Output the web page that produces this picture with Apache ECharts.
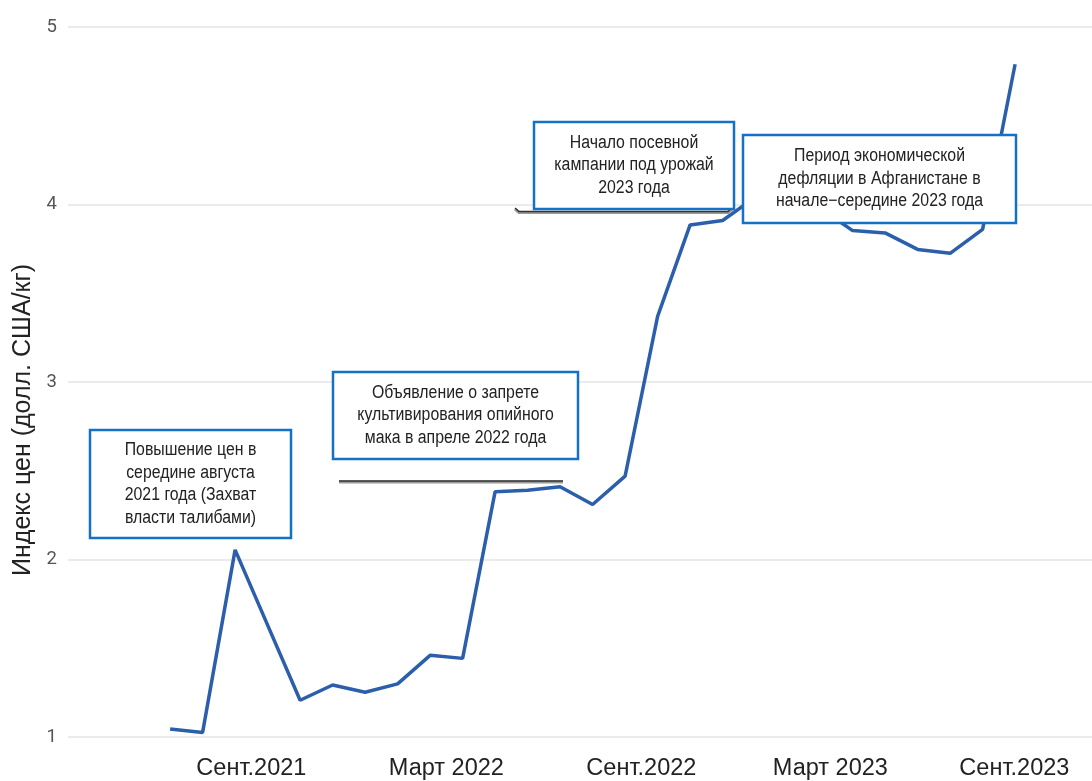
<!DOCTYPE html>
<html><head><meta charset="utf-8">
<script src="https://cdn.jsdelivr.net/npm/echarts@6/dist/echarts.min.js"></script>
<style>html,body{margin:0;padding:0;background:#fff}#c{width:1092px;height:781px}</style>
</head><body><div id="c"></div>
<script>
// Monthly price index (USD/kg)
const months = ['2021-06','2021-07','2021-08','2021-09','2021-10','2021-11','2021-12',
  '2022-01','2022-02','2022-03','2022-04','2022-05','2022-06','2022-07','2022-08','2022-09',
  '2022-10','2022-11','2022-12','2023-01','2023-02','2023-03','2023-04','2023-05','2023-06',
  '2023-07','2023-08'];
const prices = [1.045,1.026,2.054,1.63,1.207,1.293,1.252,
  1.299,1.46,1.443,2.382,2.39,2.41,2.31,2.47,3.37,
  3.885,3.91,4.04,4.03,3.98,3.853,3.84,3.747,3.725,
  3.86,4.79];
const tickMonths = ['2021-09','2022-03','2022-09','2023-03','2023-09'];
const tickLabels = ['Сент.2021','Март 2022','Сент.2022','Март 2023','Сент.2023'];
const yTicks = [1,2,3,4,5];
const yTitle = 'Индекс цен (долл. США/кг)';
const notes = [
  'Повышение цен в\nсередине августа\n2021 года (Захват\nвласти талибами)',
  'Объявление о запрете\nкультивирования опийного\nмака в апреле 2022 года',
  'Начало посевной\nкампании под урожай\n2023 года',
  'Период экономической\nдефляции в Афганистане в\nначале−середине 2023 года'
];

function monthIndex(s){ const [y,m]=s.split('-').map(Number); return (y-2021)*12+(m-1); }
const seriesData = months.map((m,i)=>[monthIndex(m)+0.5, prices[i]]);
const tickVals = tickMonths.map(monthIndex);
const labelShift = [0,0,0,12,34];

const chart = echarts.init(document.getElementById('c'));
const font = 'Liberation Sans, Arial, sans-serif';

// annotation layout (pixels)
const boxes = [
  {x:90, y:430, w:201, h:108},
  {x:333, y:372, w:245, h:87},
  {x:534, y:122, w:200, h:87},
  {x:743, y:135, w:273, h:88}
];
const graphics = [];
boxes.forEach((b,i)=>{
  graphics.push({type:'rect', z:100, shape:{x:b.x,y:b.y,width:b.w,height:b.h},
    style:{fill:'#fff', stroke:'#1471c6', lineWidth:2.5}});
  graphics.push({type:'text', z:101, x:b.x+b.w/2, y:b.y+b.h/2, scaleX:0.88,
    style:{text:notes[i], font:'18px '+font, fill:'#222', align:'center', verticalAlign:'middle', lineHeight:22.5}});
});
graphics.push({type:'polyline', z:99, shape:{points:[[339,482],[563,482]]},
  style:{stroke:'#9a9a9a', lineWidth:3}});
graphics.push({type:'polyline', z:99, shape:{points:[[339,481],[563,481]]},
  style:{stroke:'#333', lineWidth:1.3}});
graphics.push({type:'polyline', z:99, shape:{points:[[515,209],[519,212.5],[728,212.5],[732,209]]},
  style:{stroke:'#9a9a9a', lineWidth:3, fill:null}});
graphics.push({type:'polyline', z:99, shape:{points:[[515,208],[519,211.5],[728,211.5],[732,208]]},
  style:{stroke:'#333', lineWidth:1.3, fill:null}});

chart.setOption({
  animation:false,
  backgroundColor:'#fff',
  grid:{left:68, right:0, top:27, bottom:44, containLabel:false, outerBoundsMode:'none'},
  xAxis:{type:'value', min:2.358, max:33.866,
    axisLine:{show:false}, axisTick:{show:false}, splitLine:{show:false},
    axisLabel:{customValues:tickVals, margin:20, color:'#222', fontSize:23.5, fontFamily:font,
      formatter:(v)=>{const k=tickVals.indexOf(v); return k<0?'':'{s'+k+'|'+tickLabels[k]+'}';},
      rich:Object.fromEntries(labelShift.map((s,k)=>['s'+k,{fontSize:23.5,fontFamily:font,color:'#222',padding:[0,s,0,0]}]))
    }},
  yAxis:{type:'value', min:yTicks[0], max:yTicks[yTicks.length-1], interval:1,
    name:yTitle, nameLocation:'middle', nameGap:31, nameRotate:90,
    nameTextStyle:{fontSize:25, color:'#222', fontFamily:font, padding:[0,76,0,0]},
    axisLine:{show:false}, axisTick:{show:false},
    axisLabel:{color:'#555', fontSize:18.5, fontFamily:'Roboto, sans-serif', margin:11},
    splitLine:{lineStyle:{color:'#ebebeb', width:2}}},
  series:[{type:'line', data:seriesData, showSymbol:false, symbol:'none',
    lineStyle:{color:'#2b5fab', width:3.5}, z:2}],
  graphic:graphics
});
</script></body></html>
